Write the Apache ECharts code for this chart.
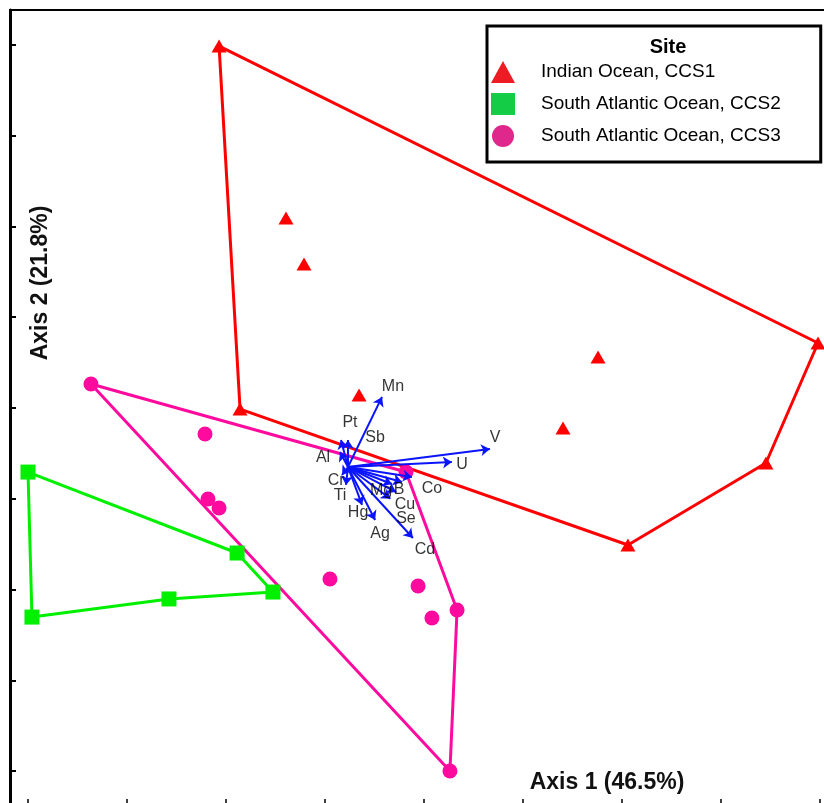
<!DOCTYPE html>
<html>
<head>
<meta charset="utf-8">
<script src="https://cdn.jsdelivr.net/npm/echarts@6/dist/echarts.min.js"></script>
<style>
  html, body { margin: 0; padding: 0; background: #fff; }
  #chart { width: 824px; height: 803px; }
</style>
</head>
<body>
<div id="chart"></div>
<script>
// site scores (Axis 1, Axis 2)
const siteNames = ['Indian Ocean, CCS1', 'South Atlantic Ocean, CCS2', 'South Atlantic Ocean, CCS3']

const ccs1X = [-1.035, -0.697, -0.606, -0.929, -0.328, 0.879, 0.702, 1.990, 1.727, 1.030]
const ccs1Y = [1.994, 1.047, 0.793, -0.006, 0.072, 0.281, -0.110, 0.358, -0.303, -0.755]
const ccs1Hull = [0, 7, 8, 9, 3]

const ccs2X = [-2.000, -0.944, -0.763, -1.288, -1.980]
const ccs2Y = [-0.353, -0.799, -1.014, -1.052, -1.152]
const ccs2Hull = [0, 1, 2, 3, 4]

const ccs3X = [-1.682, -1.106, -1.091, -1.035, -0.475, -0.030, 0.040, 0.167, 0.131, -0.091]
const ccs3Y = [0.132, -0.143, -0.501, -0.551, -0.942, -0.981, -1.157, -1.113, -2.000, -0.353]
const ccs3Hull = [0, 9, 7, 8]

// element vectors (biplot)
const vecOrigin = [-0.384, -0.325]
const varNames = ['Mn', 'V', 'U', 'Co', 'Mg', 'B', 'Cu', 'Se', 'Cd', 'Ag', 'Hg', 'Ti', 'Cr', 'Al', 'Pt', 'Sb']
const tipX = [-0.212, 0.333, 0.141, -0.061, -0.162, -0.111, -0.141, -0.170, -0.056, -0.247, -0.313, -0.394, -0.414, -0.424, -0.419, -0.384]
const tipY = [0.061, -0.226, -0.298, -0.380, -0.419, -0.408, -0.463, -0.500, -0.716, -0.617, -0.534, -0.424, -0.369, -0.242, -0.176, -0.176]
const labelX = [-0.157, 0.359, 0.192, 0.040, -0.217, -0.126, -0.096, -0.091, 0.005, -0.222, -0.333, -0.424, -0.444, -0.510, -0.374, -0.247]
const labelY = [0.116, -0.165, -0.314, -0.446, -0.457, -0.452, -0.534, -0.612, -0.782, -0.694, -0.579, -0.485, -0.402, -0.275, -0.083, -0.165]

// unlabelled tick positions
const xTicks = [-2, -1.5, -1, -0.5, 0, 0.5, 1, 1.5, 2]
const yTicks = [-2, -1.5, -1, -0.5, 0, 0.5, 1, 1.5, 2]

const FONT = 'Liberation Sans, Arial, sans-serif'

function points(xs, ys) {
  return xs.map((x, i) => [x, ys[i]])
}
function hull(xs, ys, idx) {
  const pts = idx.map(i => [xs[i], ys[i]])
  pts.push(pts[0])
  return pts
}
function hullSeries(name, data, color) {
  return {
    name: name,
    type: 'line',
    data: data,
    symbol: 'none',
    silent: true,
    z: 2,
    lineStyle: { color: color, width: 3 }
  }
}

const chart = echarts.init(document.getElementById('chart'))

const option = {
  animation: false,
  backgroundColor: '#fff',
  grid: {
    left: 10,
    top: 10,
    width: 820,
    height: 795,
    show: true,
    borderColor: '#000',
    borderWidth: 2,
    containLabel: false,
    outerBoundsMode: 'none'
  },
  title: {
    text: 'Site',
    left: 663,
    top: 32,
    textAlign: 'center',
    textStyle: { fontFamily: FONT, fontSize: 20, fontWeight: 'bold', color: '#000' }
  },
  legend: {
    orient: 'vertical',
    left: 487,
    top: 26,
    padding: [35, 40, 15, 4],
    borderColor: '#000',
    borderWidth: 3,
    itemWidth: 24,
    itemHeight: 22,
    itemGap: 10,
    textStyle: { fontFamily: FONT, fontSize: 19, color: '#000', padding: [0, 0, 0, 21] },
    data: [
      { name: siteNames[0], icon: 'triangle', itemStyle: { color: '#ed1c24' } },
      { name: siteNames[1], icon: 'rect', itemStyle: { color: '#14cc46' } },
      { name: siteNames[2], icon: 'circle', itemStyle: { color: '#e0288c' } }
    ]
  },
  xAxis: {
    type: 'value',
    min: -2.0909,
    max: 2.0505,
    axisLine: { show: false, onZero: false },
    axisTick: { show: true, inside: true, length: 6, customValues: xTicks, lineStyle: { color: '#000', width: 1.5 } },
    axisLabel: { show: false },
    splitLine: { show: false }
  },
  yAxis: {
    type: 'value',
    min: -2.1873,
    max: 2.1928,
    axisLine: { show: true, onZero: false, lineStyle: { color: '#000', width: 3 } },
    axisTick: { show: true, inside: true, length: 6, customValues: yTicks, lineStyle: { color: '#000', width: 2 } },
    axisLabel: { show: false },
    splitLine: { show: false }
  },
  graphic: [
    {
      type: 'text',
      x: 41,
      y: 283,
      rotation: Math.PI / 2,
      style: {
        text: 'Axis 2 (21.8%)',
        font: 'bold 23px ' + FONT,
        fill: '#111',
        align: 'center',
        verticalAlign: 'middle',
        textAlign: 'center',
        textVerticalAlign: 'middle'
      }
    },
    {
      type: 'text',
      x: 607,
      y: 783,
      style: {
        text: 'Axis 1 (46.5%)',
        font: 'bold 23px ' + FONT,
        fill: '#111',
        align: 'center',
        verticalAlign: 'middle',
        textAlign: 'center',
        textVerticalAlign: 'middle'
      }
    }
  ],
  series: [
    hullSeries('hull1', hull(ccs1X, ccs1Y, ccs1Hull), '#ff0000'),
    hullSeries('hull2', hull(ccs2X, ccs2Y, ccs2Hull), '#00f000'),
    hullSeries('hull3', hull(ccs3X, ccs3Y, ccs3Hull), '#ff0a9e'),
    {
      name: siteNames[0],
      type: 'scatter',
      data: points(ccs1X, ccs1Y),
      symbol: 'triangle',
      symbolSize: [15, 13],
      z: 3,
      itemStyle: { color: '#ff0000', opacity: 1 }
    },
    {
      name: siteNames[1],
      type: 'scatter',
      data: points(ccs2X, ccs2Y),
      symbol: 'rect',
      symbolSize: 15,
      z: 3,
      itemStyle: { color: '#00f000', opacity: 1 }
    },
    {
      name: siteNames[2],
      type: 'scatter',
      data: points(ccs3X, ccs3Y),
      symbol: 'circle',
      symbolSize: 15,
      z: 3,
      itemStyle: { color: '#ff0a9e', opacity: 1 }
    },
    {
      name: 'vectors',
      type: 'lines',
      coordinateSystem: 'cartesian2d',
      z: 4,
      symbol: ['none', 'arrow'],
      symbolSize: 9,
      lineStyle: { color: '#0a14ff', width: 2, opacity: 1 },
      data: varNames.map((n, i) => ({ name: n, coords: [vecOrigin, [tipX[i], tipY[i]]] }))
    },
    {
      name: 'vectorLabels',
      type: 'scatter',
      symbolSize: 0,
      z: 5,
      silent: true,
      itemStyle: { color: 'transparent' },
      data: varNames.map((n, i) => ({ name: n, value: [labelX[i], labelY[i]] })),
      label: {
        show: true,
        position: 'inside',
        formatter: '{b}',
        fontFamily: FONT,
        fontSize: 16,
        color: '#000',
        textBorderWidth: 0
      }
    }
  ]
}

chart.setOption(option)
</script>
</body>
</html>
